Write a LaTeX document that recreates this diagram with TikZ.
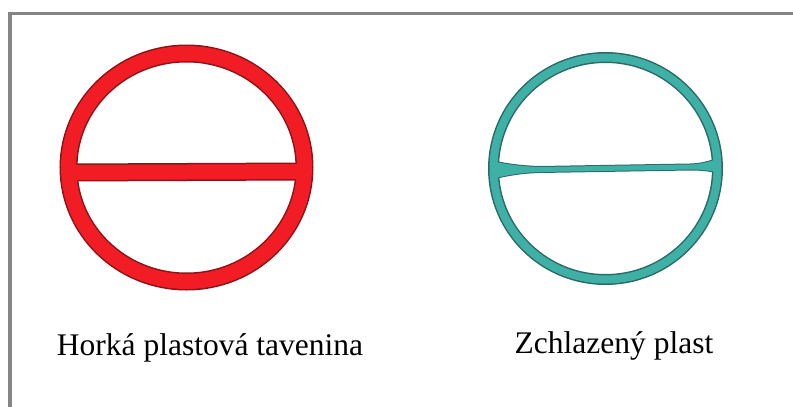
\documentclass[tikz,border=0pt]{standalone}
\usepackage{fontspec}
\setmainfont{Liberation Serif}
\usepackage{xcolor}
\definecolor{hotred}{HTML}{F21C24}
\definecolor{hotdark}{HTML}{8A1418}
\definecolor{coldteal}{HTML}{3FB0A6}
\definecolor{colddark}{HTML}{2C6A68}
\definecolor{frame}{HTML}{858585}
\usetikzlibrary{positioning, calc}

\begin{document}
\begin{tikzpicture}[x=1pt, y=-1pt,
    caption/.style={anchor=base, inner sep=0pt, text=black,
                    font=\fontsize{31.5}{36}\selectfont}]
  \useasboundingbox (0,0) rectangle (793,407);

  \draw[frame, line width=3.5pt] (10,407) -- (10,13.5) -- (793,13.5);

  \coordinate (hot) at (186.5,167.5);
  \coordinate (cold) at (605.5,168.5);

  % hot melt: thick ring and thick bar
  \draw[hotdark, line width=18pt] (hot) ellipse [x radius=118, y radius=114];
  \draw[hotdark, line width=18pt] ($(hot)+(-118,5)$) -- ($(hot)+(118,4)$);
  \draw[hotred, line width=15pt] (hot) ellipse [x radius=118, y radius=114];
  \draw[hotred, line width=15pt] ($(hot)+(-118,5)$) -- ($(hot)+(118,4)$);

  % cooled plastic: thin ring, bar tapered in the middle
  \draw[colddark, line width=11pt] (cold) ellipse [x radius=112, y radius=111];
  \path[draw=colddark, line width=2pt]
    (491,161) .. controls (505,164) and (520,166.5) .. (540,167) -- (690,164.5)
    .. controls (705,164) and (712,160.5) .. (720,158) -- (720,173)
    .. controls (712,171) and (705,169.5) .. (690,169.5) -- (540,172)
    .. controls (520,172.5) and (505,175.5) .. (491,179) -- cycle;
  \draw[coldteal, line width=8pt] (cold) ellipse [x radius=112, y radius=111];
  \path[fill=coldteal]
    (491,161) .. controls (505,164) and (520,166.5) .. (540,167) -- (690,164.5)
    .. controls (705,164) and (712,160.5) .. (720,158) -- (720,173)
    .. controls (712,171) and (705,169.5) .. (690,169.5) -- (540,172)
    .. controls (520,172.5) and (505,175.5) .. (491,179) -- cycle;

  \node[caption] (hotlabel) at (210,355) {Horká plastová tavenina};
  \node[caption] (coldlabel) at (614,353) {Zchlazený plast};
\end{tikzpicture}
\end{document}
